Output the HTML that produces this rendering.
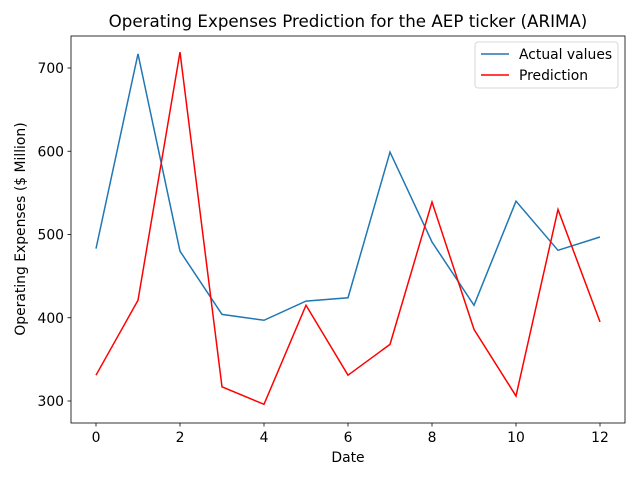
<!DOCTYPE html>
<html><head><meta charset="utf-8"><style>
body{margin:0;background:#fff;}
svg text{font-family:"DejaVu Sans","Liberation Sans",sans-serif;fill:#000;}
</style></head><body>
<svg id="chart" width="640" height="480" xmlns="http://www.w3.org/2000/svg">
<rect width="640" height="480" fill="#fff"/>
<text x="348" y="27" font-size="16.7" text-anchor="middle">Operating Expenses Prediction for the AEP ticker (ARIMA)</text>
<g id="ticks"></g>
<g id="lines"></g>
<rect x="71" y="36" width="554" height="387" fill="none" stroke="#000" stroke-width="0.8"/>
<text x="348" y="462" font-size="13.9" text-anchor="middle">Date</text>
<text transform="translate(25,229) rotate(-90)" font-size="13.9" text-anchor="middle">Operating Expenses ($ Million)</text>
<g>
<rect x="475" y="42" width="143" height="46" rx="3" fill="#fff" stroke="#ccc" stroke-width="0.8"/>
<line x1="481" y1="54" x2="509" y2="54" stroke="#1f77b4" stroke-width="1.5"/>
<text x="519" y="59" font-size="13.9">Actual values</text>
<line x1="481" y1="75" x2="509" y2="75" stroke="#ff0000" stroke-width="1.5"/>
<text x="519" y="80" font-size="13.9">Prediction</text>
</g>
</svg>
<script>
const dates=[0,1,2,3,4,5,6,7,8,9,10,11,12];
const actualValues=[483,717,480,404,397,420,424,599,491,415,540,481,497];
const predictionValues=[331,421,719,317,296,415,331,368,539,386,306,530,395];
const xTicks=[0,2,4,6,8,10,12];
const yTicks=[300,400,500,600,700];
const NS="http://www.w3.org/2000/svg";
function xs(v){return 96+v*42;}
function ys(v){return 401-(v-300)*0.8325;}
function mk(t,a,p){const e=document.createElementNS(NS,t);for(const k in a)e.setAttribute(k,a[k]);p.appendChild(e);return e;}
const tg=document.getElementById('ticks');
xTicks.forEach(t=>{
 const l=mk('line',{x1:xs(t),x2:xs(t),y1:423,y2:426.5,stroke:'#000','stroke-width':0.8},tg);
 
 
 const tx=mk('text',{x:xs(t),y:442,'font-size':13.9,'text-anchor':'middle'},tg);tx.textContent=t;
 
 
});
yTicks.forEach(t=>{
 const l=mk('line',{x1:67.5,x2:71,y1:ys(t),y2:ys(t),stroke:'#000','stroke-width':0.8},tg);
 
 
 const tx=mk('text',{x:64,y:ys(t)+5,'font-size':13.9,'text-anchor':'end'},tg);tx.textContent=t;
 
 
});
const lg=document.getElementById('lines');
const a=mk('polyline',{points:dates.map((d,i)=>xs(d)+','+ys(actualValues[i])).join(' '),fill:'none',stroke:'#1f77b4','stroke-width':1.5},lg);


const p=mk('polyline',{points:dates.map((d,i)=>xs(d)+','+ys(predictionValues[i])).join(' '),fill:'none',stroke:'#ff0000','stroke-width':1.5},lg);


</script>
</body></html>
